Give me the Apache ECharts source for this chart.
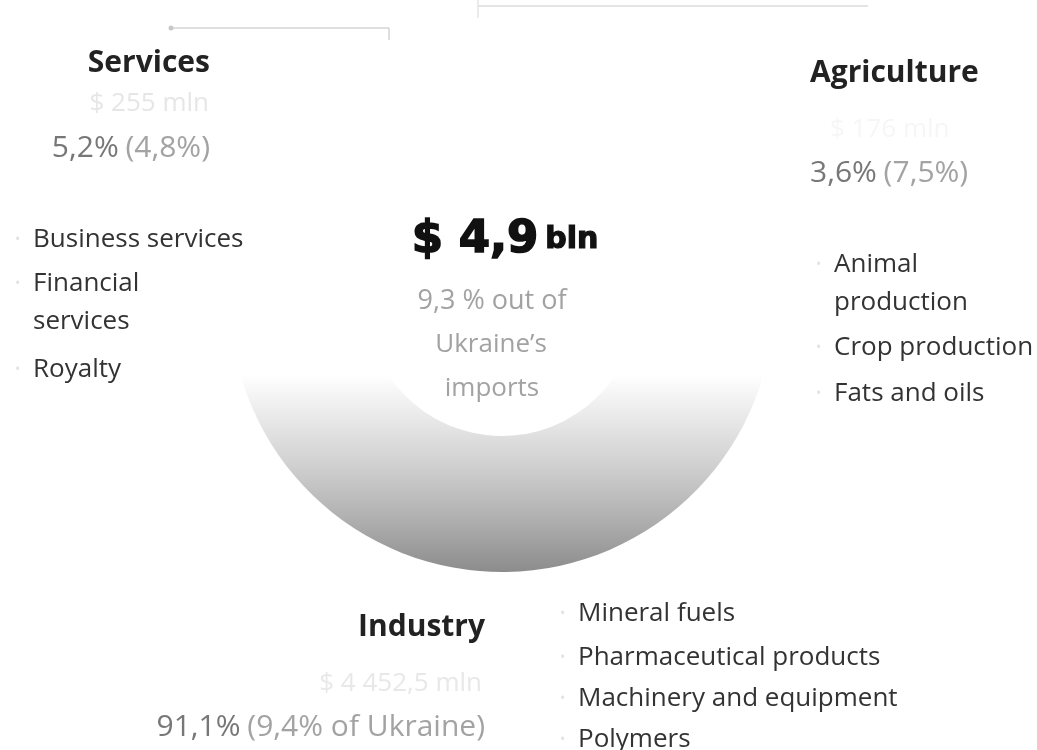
<!DOCTYPE html>
<html><head><meta charset="utf-8">
<script src="https://cdn.jsdelivr.net/npm/echarts@6/dist/echarts.min.js"></script>
<style>html,body{margin:0;padding:0;background:#fff}#c{width:1037px;height:750px}</style>
</head><body><div id="c"></div>
<script>
// ---- data ----
const categories = ['Services', 'Agriculture', 'Industry'];
const shares = [5.2, 3.6, 91.1];               // % of imports from partner
const sharesPrev = ['(4,8%)', '(7,5%)', '(9,4% of Ukraine)'];
const shareLabels = ['5,2%', '3,6%', '91,1%'];
const valueLabels = ['$ 255 mln', '$ 176 mln', '$ 4 452,5 mln'];
const servicesItems = ['Business services', 'Financial\nservices', 'Royalty'];
const agricultureItems = ['Animal\nproduction', 'Crop production', 'Fats and oils'];
const industryItems = ['Mineral fuels', 'Pharmaceutical products', 'Machinery and equipment', 'Polymers'];
const totalLabel = '$ 4,9';
const totalUnit = 'bln';
const centerText = ['9,3 % out of', 'Ukraine\u2019s', 'imports'];

const FONT = "'Open Sans', 'Noto Sans', sans-serif";
const chart = echarts.init(document.getElementById('c'), null, {renderer: 'canvas'});

const grad = new echarts.graphic.LinearGradient(0, 0, 0, 1, [
  {offset: 0, color: '#ffffff'},
  {offset: 0.63, color: '#ffffff'},
  {offset: 0.71, color: '#e9e9e9'},
  {offset: 0.8, color: '#d0d0d0'},
  {offset: 0.9, color: '#b0b0b0'},
  {offset: 1, color: '#8c8c8c'}
]);
const pieColors = {Services: '#ffffff', Agriculture: '#ffffff', Industry: grad};
const pieOrder = ['Agriculture', 'Industry', 'Services'];
const pieData = pieOrder.map(n => ({
  name: n, value: shares[categories.indexOf(n)],
  itemStyle: {color: pieColors[n]}
}));

function txt(x, y, text, opt) {
  return {
    type: 'text', x: x, y: y, z: 10,
    style: Object.assign({text: text, font: '26px ' + FONT, fill: '#333',
      textAlign: 'left', textVerticalAlign: 'middle'}, opt || {})
  };
}
function list(items, x, ys) {
  const out = [];
  items.forEach((t, i) => {
    out.push(txt(x, ys[i], t, {lineHeight: 38, textVerticalAlign: 'top'}));
    out.push(txt(x - 18, ys[i] + 19, '\u2022', {fill: '#e2e2e2', font: '14px ' + FONT}));
  });
  return out;
}
function pct(i) {
  return '{a|' + shareLabels[i] + '} {b|' + sharesPrev[i] + '}';
}
const rich = {
  a: {fill: '#777777', font: '30px ' + FONT},
  b: {fill: '#a3a3a3', font: '30px ' + FONT}
};
const TITLE = 'bold 30px ' + FONT;

const graphics = [
  // faint leader lines from the original layout
  {type: 'line', shape: {x1: 172, y1: 28, x2: 389, y2: 28}, style: {stroke: '#d4d4d4', lineWidth: 1.5}},
  {type: 'circle', shape: {cx: 171, cy: 28, r: 2.5}, style: {fill: '#c8c8c8'}},
  {type: 'line', shape: {x1: 389, y1: 28, x2: 389, y2: 40}, style: {stroke: '#d4d4d4', lineWidth: 1.5}},
  {type: 'line', shape: {x1: 478, y1: 6, x2: 868, y2: 6}, style: {stroke: '#e4e4e4', lineWidth: 2}},
  {type: 'line', shape: {x1: 478, y1: 0, x2: 478, y2: 18}, style: {stroke: '#e4e4e4', lineWidth: 1.5}},

  // Services block
  txt(210, 63, categories[0], {font: TITLE, fill: '#222', textAlign: 'right'}),
  txt(209, 104, valueLabels[0], {fill: '#e6e6e6', textAlign: 'right'}),
  txt(210, 148, pct(0), {textAlign: 'right', rich: rich}),
  ...list(servicesItems, 33, [221, 265, 351]),

  // Agriculture block
  txt(810, 73, categories[1], {font: TITLE, fill: '#222'}),
  txt(830, 130, valueLabels[1], {fill: '#f6f6f6'}),
  txt(810, 173, pct(1), {rich: rich}),
  ...list(agricultureItems, 834, [246, 329, 375]),

  // center
  txt(505, 240, '{m|' + totalLabel + '} {u|' + totalUnit + '}', {textAlign: 'center',
    rich: {m: {font: 'bold 45px "DejaVu Sans", sans-serif', fill: '#111', stroke: '#111', lineWidth: 1.6},
           u: {font: 'bold 30px "DejaVu Sans", sans-serif', fill: '#111', stroke: '#111', lineWidth: 1.2}}}),
  txt(492, 301, centerText[0], {font: '27px ' + FONT, fill: '#a2a2a2', textAlign: 'center'}),
  txt(491, 345, centerText[1], {font: '26px ' + FONT, fill: '#a2a2a2', textAlign: 'center'}),
  txt(492, 389, centerText[2], {font: '26px ' + FONT, fill: '#a2a2a2', textAlign: 'center'}),

  // Industry block
  txt(485, 627, categories[2], {font: TITLE, fill: '#222', textAlign: 'right'}),
  txt(482, 684, valueLabels[2], {fill: '#e8e8e8', textAlign: 'right'}),
  txt(485, 727, pct(2), {textAlign: 'right', rich: rich}),
  ...list(industryItems, 578, [595, 639, 680, 721])
];

chart.setOption({
  animation: false,
  backgroundColor: '#ffffff',
  series: [{
    type: 'pie',
    center: [502, 300],
    radius: [136, 272],
    startAngle: 87,
    clockwise: true,
    label: {show: false},
    labelLine: {show: false},
    emphasis: {disabled: true},
    silent: true,
    itemStyle: {borderWidth: 0},
    data: pieData
  }],
  graphic: graphics
});
</script></body></html>
